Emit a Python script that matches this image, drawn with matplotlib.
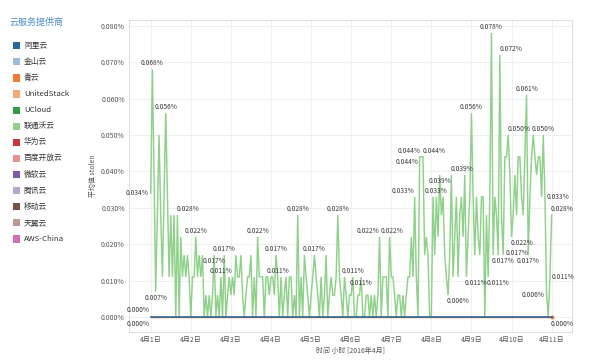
import matplotlib
matplotlib.use("Agg")
import matplotlib.pyplot as plt
from matplotlib.patches import Rectangle
import numpy as np

plt.rcParams['font.family'] = ['Noto Sans CJK SC', 'DejaVu Sans']

# ---------------- data ----------------
providers = ['阿里云', '金山云', '青云', 'UnitedStack', 'UCloud', '联通沃云', '华为云',
             '百度开放云', '微软云', '腾讯云', '移动云', '天翼云', 'AWS-China']
provider_colors = ['#2b6699', '#9dbcdc', '#f07b34', '#f5aa78', '#389a46', '#8fd18a', '#c9383b',
                   '#ef8e8e', '#7b5ba6', '#baa7d0', '#7b4f45', '#bf9891', '#d070b0']

day_labels = ['4月1日', '4月2日', '4月3日', '4月4日', '4月5日', '4月6日',
              '4月7日', '4月8日', '4月9日', '4月10日', '4月11日']
y_ticks = [0.000, 0.010, 0.020, 0.030, 0.040, 0.050, 0.060, 0.070, 0.080]

# 联通沃云 hourly average stolen (%), 4/1 00:00 .. 4/11 00:00
unicom = [
    0.034, 0.068, 0.039, 0.007, 0.028, 0.050, 0.028, 0.011, 0.033, 0.056, 0.033, 0.011,
    0.028, 0.011, 0.028, 0.000, 0.028, 0.000, 0.022, 0.011, 0.017, 0.011, 0.017, 0.011,
    0.000, 0.011, 0.011, 0.022, 0.011, 0.017, 0.011, 0.017, 0.000, 0.006, 0.000, 0.006,
    0.000, 0.006, 0.017, 0.000, 0.006, 0.000, 0.011, 0.000, 0.017, 0.000, 0.006, 0.011,
    0.006, 0.011, 0.006, 0.017, 0.011, 0.011, 0.017, 0.006, 0.000, 0.006, 0.011, 0.011,
    0.017, 0.000, 0.011, 0.000, 0.022, 0.011, 0.011, 0.011, 0.000, 0.011, 0.011, 0.006,
    0.011, 0.011, 0.006, 0.017, 0.011, 0.000, 0.011, 0.000, 0.006, 0.011, 0.000, 0.011,
    0.011, 0.000, 0.006, 0.000, 0.028, 0.000, 0.011, 0.000, 0.017, 0.011, 0.006, 0.000,
    0.006, 0.011, 0.017, 0.011, 0.006, 0.000, 0.011, 0.000, 0.006, 0.017, 0.000, 0.006,
    0.011, 0.006, 0.006, 0.011, 0.028, 0.011, 0.006, 0.000, 0.011, 0.006, 0.000, 0.006,
    0.006, 0.011, 0.000, 0.000, 0.006, 0.006, 0.011, 0.000, 0.000, 0.006, 0.006, 0.000,
    0.006, 0.000, 0.006, 0.000, 0.006, 0.022, 0.000, 0.011, 0.011, 0.011, 0.000, 0.022,
    0.011, 0.011, 0.006, 0.000, 0.006, 0.006, 0.000, 0.006, 0.000, 0.006, 0.011, 0.011,
    0.022, 0.011, 0.033, 0.011, 0.000, 0.044, 0.044, 0.044, 0.017, 0.022, 0.017, 0.000,
    0.000, 0.033, 0.017, 0.033, 0.022, 0.039, 0.028, 0.033, 0.017, 0.011, 0.006, 0.017,
    0.039, 0.011, 0.022, 0.033, 0.011, 0.028, 0.033, 0.022, 0.039, 0.011, 0.022, 0.033,
    0.056, 0.033, 0.017, 0.033, 0.022, 0.017, 0.033, 0.033, 0.000, 0.028, 0.011, 0.033,
    0.078, 0.017, 0.033, 0.028, 0.017, 0.072, 0.028, 0.017, 0.044, 0.044, 0.050, 0.039,
    0.022, 0.028, 0.039, 0.028, 0.044, 0.044, 0.033, 0.028, 0.044, 0.061, 0.017, 0.033,
    0.044, 0.050, 0.044, 0.039, 0.044, 0.044, 0.033, 0.050, 0.033, 0.006, 0.000, 0.011,
    0.028,
]
aliyun = [0.000] * len(unicom)
qingcloud = [0.000] * len(unicom)

# labelled points of 联通沃云 (hour index, placement)
unicom_labels = [
    (0, 'l'), (1, 'a'), (3, 'b'), (9, 'a'), (16, 'ar'), (27, 'a'), (38, 'b'), (42, 'a'),
    (44, 'a'), (64, 'a'), (75, 'a'), (76, 'a'), (88, 'a'), (98, 'a'), (112, 'a'),
    (121, 'a'), (126, 'b'), (137, 'al'), (143, 'a+'), (158, 'al'), (161, 'bl'), (162, 'al'),
    (163, 'ar'), (171, 'a'), (173, 'b'), (178, 'br'), (180, 'ar'), (189, 'br'), (192, 'a'),
    (202, 'br'), (204, 'a'), (205, 'br'), (209, 'ar'), (211, 'r+'), (214, 'ar'), (216, 'br'),
    (225, 'a'), (226, 'b'), (235, 'a'), (236, 'r'), (237, 'l'), (239, 'r'), (240, 'ar'),
]

# ---------------- figure ----------------
W, H = 600, 360
fig = plt.figure(figsize=(W / 100, H / 100), dpi=100)
ax = fig.add_axes([129 / W, 1 - 332 / H, (572 - 129) / W, (332 - 20) / H])

hours = np.arange(len(unicom))

ax.plot(hours, qingcloud, color=provider_colors[2], lw=1.0, zorder=2)
ax.plot(hours[-1:], qingcloud[-1:], 'o', color=provider_colors[2], ms=1.8, zorder=2)
ax.plot(hours, unicom, color=provider_colors[5], lw=1.05, zorder=3, solid_joinstyle='miter')
ax.plot(hours, aliyun, color=provider_colors[0], lw=1.2, zorder=4)

place = {
    'a': ((0, 1.5), 'center', 'bottom'),
    'a+': ((2, 1.5), 'center', 'bottom'),
    'b': ((0, -1.5), 'center', 'top'),
    'l': ((-1.5, 0), 'right', 'center'),
    'r': ((1.5, 0), 'left', 'center'),
    'r+': ((1.5, 1.2), 'left', 'center'),
    'al': ((-0.3, 1.5), 'right', 'bottom'),
    'ar': ((-0.5, 1.5), 'left', 'bottom'),
    'br': ((-1, -1.5), 'left', 'top'),
    'bl': ((-1, -1.2), 'right', 'top'),
}
lab_kw = dict(fontsize=4.8, color='#3a3a3a', textcoords='offset points', zorder=5)
for i, p in unicom_labels:
    off, ha, va = place[p]
    ax.annotate(f'{unicom[i]:.3f}%', (hours[i], unicom[i]), xytext=off, ha=ha, va=va, **lab_kw)

# zero-series end labels
ax.annotate(f'{aliyun[0]:.3f}%', (hours[0], aliyun[0]), xytext=(-0.5, 2), ha='right', va='bottom', **lab_kw)
ax.annotate(f'{qingcloud[0]:.3f}%', (hours[0], qingcloud[0]), xytext=(-0.5, -2), ha='right', va='top', **lab_kw)
ax.annotate(f'{aliyun[-1]:.3f}%', (hours[-1], aliyun[-1]), xytext=(-1, -2), ha='left', va='top', **lab_kw)

# axes styling
ax.set_xlim(-13, 252.2)
ax.set_ylim(-0.00412, 0.08157)
ax.set_xticks(np.arange(len(day_labels)) * 24)
ax.set_xticklabels(day_labels)
ax.set_yticks(y_ticks)
ax.set_yticklabels([f'{v:.3f}%' for v in y_ticks])
ax.tick_params(length=0, labelsize=5, labelcolor='#555555')
ax.tick_params(axis='x', pad=3)
ax.tick_params(axis='y', pad=3)
ax.grid(True, color='#ececec', lw=0.6)
ax.set_axisbelow(True)
for s in ax.spines.values():
    s.set_color('#dcdcdc')
    s.set_linewidth(0.7)
ax.set_xlabel('时间 小时 [2016年4月]', fontsize=5, color='#555555', labelpad=2)
ax.set_ylabel('平均值 stolen', fontsize=5, color='#555555', labelpad=3)

# legend
fig.text(10 / W, 1 - 22 / H, '云服务提供商', fontsize=6.5, color='#4a8cc8', va='center', ha='left')
for k, (name, col) in enumerate(zip(providers, provider_colors)):
    yc = 45.7 + k * 16.1
    fig.add_artist(Rectangle((12.5 / W, 1 - (yc + 3.6) / H), 7.2 / W, 7.2 / H,
                             transform=fig.transFigure, facecolor=col, edgecolor='none'))
    fig.text(24 / W, 1 - yc / H, name, fontsize=5.6, color='#333333', va='center', ha='left')

fig.savefig('out.png', dpi=100)
